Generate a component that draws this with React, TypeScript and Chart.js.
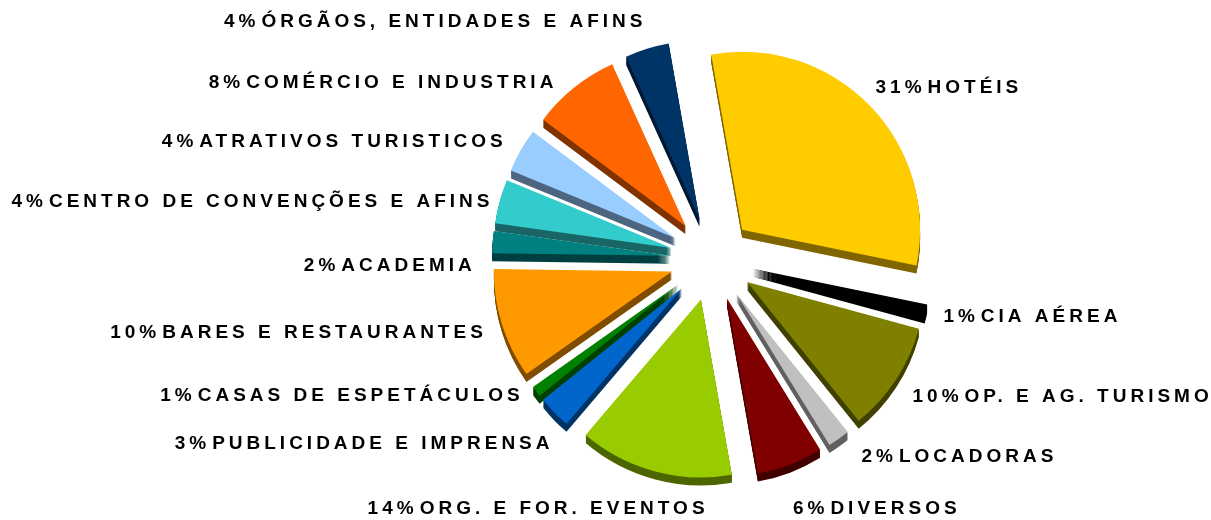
import React, { useEffect, useRef } from "react";
import { Chart, registerables } from "chart.js";

Chart.register(...registerables);

const categories = [
  "HOTÉIS",
  "CIA AÉREA",
  "OP. E AG. TURISMO",
  "LOCADORAS",
  "DIVERSOS",
  "ORG. E FOR. EVENTOS",
  "PUBLICIDADE E IMPRENSA",
  "CASAS DE ESPETÁCULOS",
  "BARES E RESTAURANTES",
  "ACADEMIA",
  "CENTRO DE CONVENÇÕES E AFINS",
  "ATRATIVOS TURISTICOS",
  "COMÉRCIO E INDUSTRIA",
  "ÓRGÃOS, ENTIDADES E AFINS",
];

const percentages = [31, 1, 10, 2, 6, 14, 3, 1, 10, 2, 4, 4, 8, 4];

const faceColors = [
  "#FFCC00",
  "#000000",
  "#808000",
  "#C0C0C0",
  "#800000",
  "#99CC00",
  "#0066CC",
  "#008000",
  "#FF9900",
  "#008080",
  "#33CCCC",
  "#99CCFF",
  "#FF6600",
  "#003366",
];

// small per-label nudges (dx, dy) applied after angle-based placement
const labelNudges = [
  [-10, -3],
  [-4, 2],
  [-2, 5],
  [10, 0],
  [-5, 24],
  [56, 16],
  [11, 16],
  [1, -9],
  [2, 2],
  [1, 25],
  [11, 6],
  [1, 2],
  [-7, 12],
  [2, -6],
];

const EXPLODE = 42;
const DEPTH = 8;
const LABEL_R = 242;
const FONT = 'bold 19px "Liberation Sans", Arial, sans-serif';
const LETTER_SPACING = 4;

function darken(hex: string, f: number) {
  const n = parseInt(hex.slice(1), 16);
  const r = Math.round(((n >> 16) & 255) * f);
  const g = Math.round(((n >> 8) & 255) * f);
  const b = Math.round((n & 255) * f);
  return `rgb(${r},${g},${b})`;
}

const sideColors = faceColors.map((c) => darken(c, 0.5));

const pie3dPlugin = {
  id: "pie3d",
  beforeDatasetDraw(chart: any, args: any) {
    const ctx = chart.ctx as CanvasRenderingContext2D;
    const arcs = args.meta.data as any[];
    const shifts = arcs.map((arc) => {
      const mid = (arc.startAngle + arc.endAngle) / 2;
      return [Math.cos(mid) * EXPLODE, Math.sin(mid) * EXPLODE];
    });
    // sides (depth)
    arcs.forEach((arc, i) => {
      const orig = arc.options;
      arc.options = Object.assign({}, orig, { backgroundColor: sideColors[i], borderWidth: 0 });
      for (let k = DEPTH; k >= 1; k--) {
        ctx.save();
        ctx.translate(shifts[i][0], shifts[i][1] + k);
        arc.draw(ctx);
        ctx.restore();
      }
      arc.options = orig;
    });
    // faces
    arcs.forEach((arc, i) => {
      ctx.save();
      ctx.translate(shifts[i][0], shifts[i][1]);
      arc.draw(ctx);
      ctx.restore();
    });
    return false;
  },
  afterDatasetsDraw(chart: any) {
    const ctx = chart.ctx as CanvasRenderingContext2D;
    const meta = chart.getDatasetMeta(0);
    ctx.save();
    ctx.font = FONT;
    (ctx as any).letterSpacing = LETTER_SPACING + "px";
    ctx.fillStyle = "#000000";
    ctx.textBaseline = "middle";
    ctx.textAlign = "left";
    meta.data.forEach((arc: any, i: number) => {
      const mid = (arc.startAngle + arc.endAngle) / 2;
      const ax = arc.x + Math.cos(mid) * LABEL_R + labelNudges[i][0];
      const ay = arc.y + Math.sin(mid) * LABEL_R + labelNudges[i][1];
      const pct = `${percentages[i]}%`;
      const name = categories[i];
      const wp = ctx.measureText(pct).width;
      const gap = 2;
      const wn = ctx.measureText(name).width - LETTER_SPACING;
      const total = wp + gap + wn;
      const x0 = Math.cos(mid) < 0 ? ax - total : ax;
      ctx.fillText(pct, x0, ay);
      ctx.fillText(name, x0 + wp + gap, ay);
    });
    ctx.restore();
  },
};

export default function App() {
  const canvasRef = useRef<HTMLCanvasElement | null>(null);

  useEffect(() => {
    if (!canvasRef.current) return;
    const chart = new Chart(canvasRef.current, {
      type: "pie",
      data: {
        labels: categories,
        datasets: [
          {
            data: percentages,
            backgroundColor: faceColors,
            borderWidth: 0,
          },
        ],
      },
      options: {
        responsive: false,
        animation: false,
        rotation: -10,
        radius: 178,
        layout: { padding: { left: 213, right: 0, top: 0, bottom: 2 } },
        plugins: {
          legend: { display: false },
          tooltip: { enabled: false },
        },
        events: [],
      },
      plugins: [pie3dPlugin],
    });
    return () => chart.destroy();
  }, []);

  return (
    <div style={{ position: "fixed", left: 0, top: 0, width: 1211, height: 520, background: "#ffffff" }}>
      <canvas ref={canvasRef} width={1211} height={520} />
    </div>
  );
}
